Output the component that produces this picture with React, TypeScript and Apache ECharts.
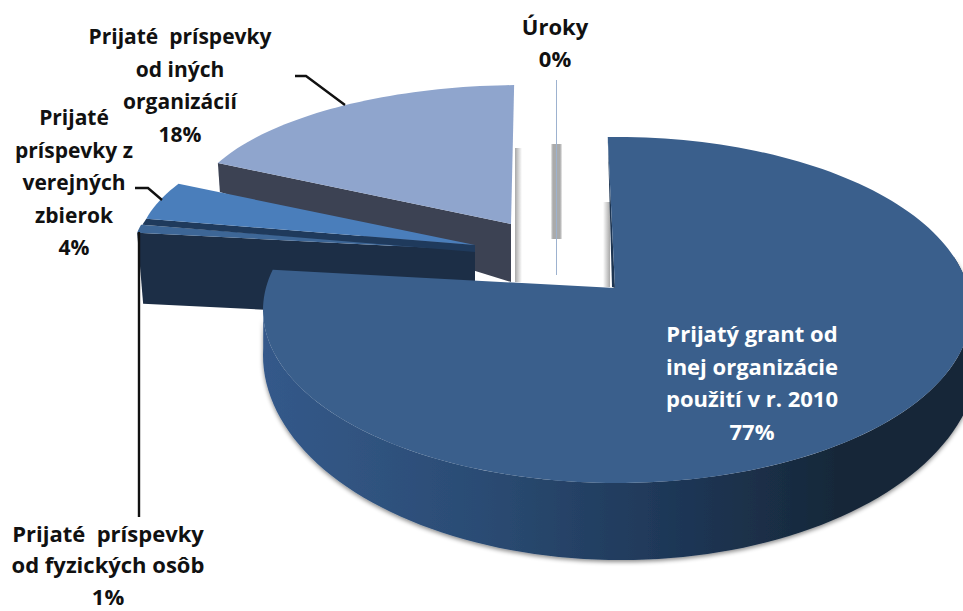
import React, { useEffect, useRef } from "react";
import * as echarts from "echarts";

const sliceNames = [
  "Prijatý grant od\ninej organizácie\npoužití v r. 2010",
  "Prijaté  príspevky\nod fyzických osôb",
  "Prijaté\npríspevky z\nverejných\nzbierok",
  "Prijaté  príspevky\nod iných\norganizácií",
  "Úroky",
];
const sliceValues = [77, 1, 4, 18, 0];

const W = 963;
const H = 611;
const FONT = '"Open Sans"';

// Projection of each exploded slice (ellipse of rim, apex, side depth); angles come from the values.
const geometry = [
  { cx: 617, cy: 310, rx: 354, ry: 173, ax: 615, ay: 288, k: 1.028, off: -1.5, z: 10 },
  { cx: 534, cy: 249, rx: 400, ry: 129, ax: 475, ay: 250, k: 1, off: 0, rimDepth: 71, apexDepth: 70, dx: 6, top: "#3d6696", side: "#1c2e46", z: 5 },
  { cx: 554, cy: 246, rx: 415, ry: 146, ax: 475, ay: 245, k: 1, off: 0, rimDepth: 6, apexDepth: 7, dx: -4, top: "#4a7ebb", side: "#1f3a5c", z: 7 },
  { cx: 523, cy: 216.5, rx: 334, ry: 131.5, ax: 511, ay: 224, k: 0.995, off: 0.28, rimDepth: 29, apexDepth: 58, dx: 2, top: "#8fa5cd", side: "#3c4253", z: 1 },
  { lineX: 556.5, y1: 80, y2: 275, z: 3 },
];
const labelBoxes = [
  { x: 752, y: 382, color: "#ffffff", size: 22 },
  { x: 108, y: 564, color: "#111111", size: 22 },
  { x: 74, y: 182, color: "#111111", size: 21 },
  { x: 180, y: 85, color: "#111111", size: 21 },
  { x: 555, y: 42, color: "#111111", size: 22 },
];
const leaders: (number[][] | null)[] = [
  null,
  [[139, 232], [139, 517]],
  [[135, 188], [148, 188], [162, 200]],
  [[295, 76], [306, 76], [345, 105]],
  null,
];
const softShadows = [
  { x: 515, y: 148, w: 7, h: 134, stops: ["#a8a8a8", "#ffffff"] },
  { x: 603, y: 202, w: 7, h: 85, stops: ["#ffffff", "#a8a8a8"] },
];

const rad = (d: number) => (d * Math.PI) / 180;

function rimPoints(g: any, from: number, to: number) {
  const n = Math.max(4, Math.ceil(Math.abs(to - from) / 1.5));
  const pts: number[][] = [];
  for (let i = 0; i <= n; i++) {
    const t = rad((from + ((to - from) * i) / n) * g.k + g.off);
    pts.push([g.cx + g.rx * Math.sin(t), g.cy - g.ry * Math.cos(t)]);
  }
  return pts;
}

function cumulativeAngles(values: number[]) {
  const total = values.reduce((a, b) => a + b, 0);
  let acc = 0;
  return values.map((v) => {
    const start = acc;
    acc += (v / total) * 360;
    return [start, acc];
  });
}

export default function App() {
  const ref = useRef<HTMLDivElement>(null);
  useEffect(() => {
    document.body.style.margin = "0";
    const chart = echarts.init(ref.current!, null, { renderer: "svg" });
    const angles = cumulativeAngles(sliceValues);

    const renderItem = (params: any, api: any) => {
      const i = params.dataIndex;
      const g: any = geometry[i];
      const [a0, a1] = angles[i];
      const value = api.value(0);
      const children: any[] = [];

      if (i === 0) {
        const rim = rimPoints(g, a0, a1);
        // side wall: lower ellipse below the rim
        const wall: number[][] = [];
        for (let t = 72; t <= 272; t += 2) {
          wall.push([
            621 + 358 * Math.sin(rad(t)),
            355 - 205 * Math.cos(rad(t)),
          ]);
        }
        for (let t = 272; t >= 72; t -= 2) {
          wall.push([g.cx + g.rx * Math.sin(rad(t)), g.cy - g.ry * Math.cos(rad(t))]);
        }
        children.push({
          type: "polygon",
          z2: g.z,
          shape: { points: wall },
          style: {
            fill: {
              type: "linear", x: 0, y: 0, x2: 1, y2: 0,
              colorStops: [
                { offset: 0, color: "#34598a" },
                { offset: 0.3, color: "#2b4c74" },
                { offset: 0.6, color: "#1d3554" },
                { offset: 0.8, color: "#172839" },
                { offset: 1, color: "#172538" },
              ],
            },
            shadowBlur: 4,
            shadowColor: "rgba(0,0,0,0.45)",
            shadowOffsetY: 2,
          },
        });
        // inner cut wall (thin sliver beside the cut)
        children.push({
          type: "polygon",
          z2: g.z,
          shape: { points: [rim[0], [g.ax - 3, g.ay - 1], [g.ax, g.ay]] },
          style: { fill: "#1d3552" },
        });
        children.push({
          type: "polygon",
          z2: g.z + 1,
          shape: { points: [...rim, [g.ax, g.ay]] },
          style: { fill: "#3a5f8c" },
        });
      } else if (g.lineX !== undefined) {
        children.push({
          type: "rect",
          z2: g.z,
          shape: { x: g.lineX - 6, y: 144, width: 12, height: 95 },
          style: {
            fill: {
              type: "linear", x: 0, y: 0, x2: 1, y2: 0,
              colorStops: [
                { offset: 0, color: "#ffffff" },
                { offset: 0.2, color: "#aaaaaa" },
                { offset: 0.8, color: "#aaaaaa" },
                { offset: 1, color: "#ffffff" },
              ],
            },
          },
        });
        children.push({
          type: "line",
          z2: g.z + 1,
          shape: { x1: g.lineX, y1: g.y1, x2: g.lineX, y2: g.y2 },
          style: { stroke: "#9db2cf", lineWidth: 1 },
        });
      } else {
        const rim = rimPoints(g, a0, a1);
        const first = rim[0];
        children.push({
          type: "polygon",
          z2: g.z,
          shape: {
            points: [
              first,
              [g.ax, g.ay],
              [g.ax, g.ay + g.apexDepth],
              [first[0] + g.dx, first[1] + g.rimDepth],
            ],
          },
          style: { fill: g.side },
        });
        children.push({
          type: "polygon",
          z2: g.z + 1,
          shape: { points: [...rim, [g.ax, g.ay]] },
          style: { fill: g.top },
        });
      }

      const lead = leaders[i];
      if (lead) {
        children.push({
          type: "polyline",
          z2: 15,
          shape: { points: lead },
          style: { stroke: "#111111", lineWidth: 2.4, fill: "none" },
        });
      }
      const box = labelBoxes[i];
      children.push({
        type: "text",
        z2: 20,
        style: {
          text: `${sliceNames[i]}\n${value}%`,
          x: box.x,
          y: box.y,
          align: "center",
          verticalAlign: "middle",
          fontFamily: FONT,
          fontWeight: "bold",
          fontSize: box.size,
          lineHeight: i === 1 ? 31.5 : 32.5,
          fill: box.color,
        },
      });
      return { type: "group", children };
    };

    chart.setOption({
      animation: false,
      backgroundColor: "#ffffff",
      series: [
        {
          type: "custom",
          coordinateSystem: "none",
          renderItem,
          silent: true,
          clip: false,
          data: sliceValues.map((v) => [v]),
        },
      ],
      graphic: softShadows.map((s) => ({
        type: "rect",
        z: 1,
        shape: { x: s.x, y: s.y, width: s.w, height: s.h },
        style: {
          fill: new echarts.graphic.LinearGradient(0, 0, 1, 0, [
            { offset: 0, color: s.stops[0] },
            { offset: 1, color: s.stops[1] },
          ]),
        },
      })),
    });
    return () => chart.dispose();
  }, []);
  return (
    <div
      ref={ref}
      style={{ position: "absolute", left: 0, top: 0, width: W, height: H, overflow: "hidden" }}
    />
  );
}
